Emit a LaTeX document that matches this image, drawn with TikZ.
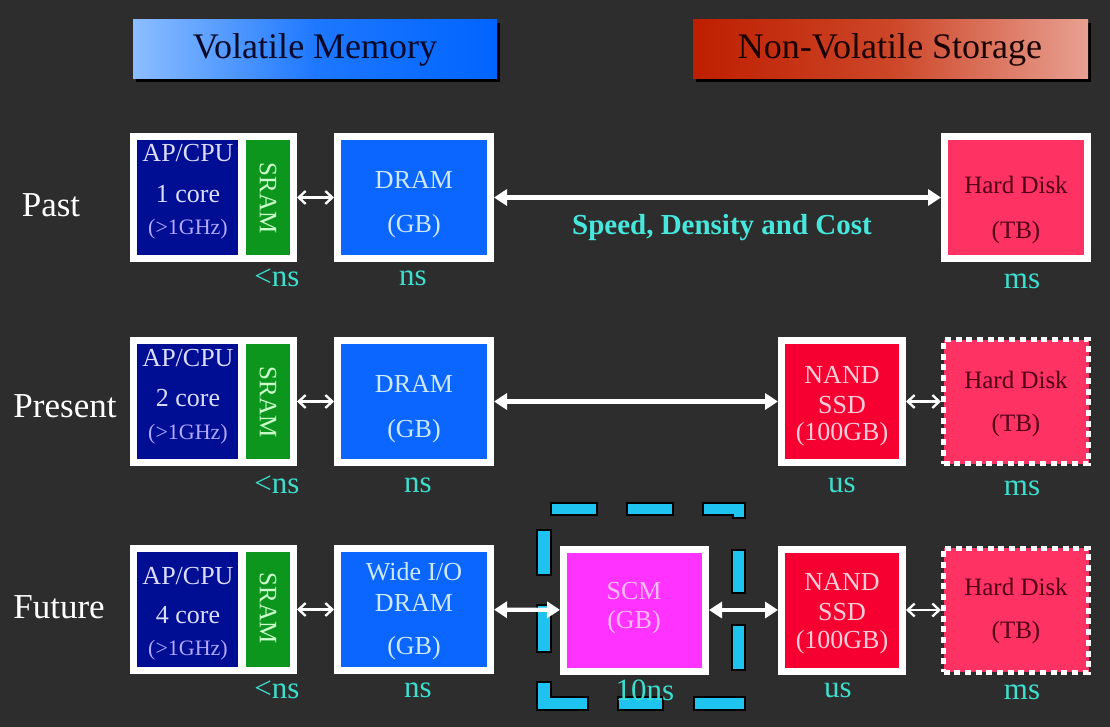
\documentclass[tikz,border=0pt]{standalone}
\usepackage{fontspec}
\setmainfont{Liberation Serif}
\usetikzlibrary{arrows.meta}
\definecolor{bg}{RGB}{45,45,45}
\definecolor{cpunavy}{RGB}{0,14,148}
\definecolor{sramgreen}{RGB}{12,150,30}
\definecolor{dramblue}{RGB}{10,102,255}
\definecolor{hdpink}{RGB}{255,50,100}
\definecolor{nandred}{RGB}{245,0,48}
\definecolor{scmmag}{RGB}{255,50,255}
\definecolor{cputext}{RGB}{220,220,255}
\definecolor{ghztext}{RGB}{180,168,255}
\definecolor{sramtext}{RGB}{205,255,205}
\definecolor{dramtext}{RGB}{205,232,255}
\definecolor{hdtext}{RGB}{80,0,22}
\definecolor{nandtext}{RGB}{255,205,215}
\definecolor{scmtext}{RGB}{255,185,255}
\definecolor{lattext}{RGB}{60,222,205}
\definecolor{speedtext}{RGB}{70,232,222}
\definecolor{scmdash}{RGB}{30,195,240}
\definecolor{volL}{RGB}{140,190,255}
\definecolor{volM}{RGB}{30,120,255}
\definecolor{volR}{RGB}{0,100,255}
\definecolor{nvL}{RGB}{190,30,0}
\definecolor{nvM}{RGB}{205,70,40}
\definecolor{nvR}{RGB}{232,160,146}
\newcommand\bxt[5]{\node[inner sep=0pt, text=#3, font=\fontsize{#4}{#4}\selectfont] (#1) at #2 {#5};}
\begin{document}
\begin{tikzpicture}[x=1pt,y=-1pt,
  framebox/.style={draw=white, line width=7pt, inner sep=0pt, minimum height=122pt},
  dotbox/.style={draw=white, line width=5pt, dash pattern=on 6pt off 4.7pt, inner sep=0pt, minimum height=124pt, minimum width=145pt, fill=hdpink},
  cpuwhite/.style={fill=white, inner sep=0pt, outer sep=0pt, minimum width=167pt, minimum height=129pt},
  cpuin/.style={fill=cpunavy, inner sep=0pt, minimum width=101pt, minimum height=115pt},
  sramin/.style={fill=sramgreen, inner sep=0pt, minimum width=44pt, minimum height=115pt},
  bigarrow/.style={draw=white, line width=4.2pt, {Triangle[length=13pt,width=16pt]}-{Triangle[length=13pt,width=16pt]}},
  smallarrow/.style={draw=white, line width=2.3pt, {Straight Barb[length=7pt,width=13pt]}-{Straight Barb[length=7pt,width=13pt]}},
  dashseg/.style={fill=scmdash, draw=black, line width=1.2pt},
  rowlabel/.style={text=white, font=\fontsize{35}{35}\selectfont, inner sep=0pt},
  lat/.style={text=lattext, font=\fontsize{31}{31}\selectfont, inner sep=0pt}
]
\fill[bg] (0,0) rectangle (1110,727);
\useasboundingbox (0,0) rectangle (1110,727);

% headers
\fill[black] (136,23) rectangle (500,82);
\shade[left color=volL, right color=volR, middle color=volM] (133,20) rectangle (497,79);
\node[text={rgb,255:red,8;green,8;blue,40}, font=\fontsize{36}{36}\selectfont, inner sep=0pt] (hvol) at (315,50) {Volatile Memory};
\fill[black] (696,23) rectangle (1091,82);
\shade[left color=nvL, right color=nvR, middle color=nvM] (693,20) rectangle (1088,79);
\node[text={rgb,255:red,25;green,0;blue,0}, font=\fontsize{36}{36}\selectfont, inner sep=0pt] (hnv) at (890,50) {Non-Volatile Storage};

% row labels
\node[rowlabel] (lpast) at (51,205) {Past};
\node[rowlabel] (lpres) at (65,406) {Present};
\node[rowlabel] (lfut) at (59,607) {Future};

% ---------- Row 1 ----------
\node[cpuwhite] (cpu1) at (213.5,197.5) {};
\node[cpuin] (cpuin1) at (187.5,197.5) {};
\node[sramin] (sram1) at (268,197.5) {};
\bxt{c1a}{(188,153)}{cputext}{26}{AP/CPU}
\bxt{c1b}{(188,194)}{cputext}{26}{1 core}
\bxt{c1c}{(188,229)}{ghztext}{22}{(>1GHz)}
\node[rotate=-90, text=sramtext, font=\fontsize{25}{25}\selectfont, inner sep=0pt] (s1) at (268,198) {SRAM};
\node[framebox, fill=dramblue, minimum width=153pt] (dram1) at (414,197.5) {};
\bxt{d1a}{(414,180)}{dramtext}{26}{DRAM}
\bxt{d1b}{(414,226)}{dramtext}{26}{(GB)}
\node[framebox, fill=hdpink, minimum width=143pt] (hd1) at (1016,197.5) {};
\bxt{h1a}{(1016,185)}{hdtext}{25}{Hard Disk}
\bxt{h1b}{(1016,232)}{hdtext}{25}{(TB)}
\draw[smallarrow] (cpu1) -- (dram1);
\draw[bigarrow] (dram1) -- (hd1);
\node[text=speedtext, font=\bfseries\fontsize{29}{29}\selectfont, inner sep=0pt] (speed) at (722,228) {Speed, Density and Cost};
\node[lat] (l1a) at (277,278) {<ns};
\node[lat] (l1b) at (413,278) {ns};
\node[lat] (l1c) at (1022,281) {ms};

% ---------- Row 2 ----------
\node[cpuwhite] (cpu2) at (213.5,401.5) {};
\node[cpuin] (cpuin2) at (187.5,401.5) {};
\node[sramin] (sram2) at (268,401.5) {};
\bxt{c2a}{(188,358)}{cputext}{26}{AP/CPU}
\bxt{c2b}{(188,398)}{cputext}{26}{2 core}
\bxt{c2c}{(188,434)}{ghztext}{22}{(>1GHz)}
\node[rotate=-90, text=sramtext, font=\fontsize{25}{25}\selectfont, inner sep=0pt] (s2) at (268,402) {SRAM};
\node[framebox, fill=dramblue, minimum width=153pt] (dram2) at (414,401.5) {};
\bxt{d2a}{(414,384)}{dramtext}{26}{DRAM}
\bxt{d2b}{(414,431)}{dramtext}{26}{(GB)}
\node[framebox, fill=nandred, minimum width=121pt] (nand2) at (842,401.5) {};
\bxt{n2a}{(842,375)}{nandtext}{26}{NAND}
\bxt{n2b}{(842,405)}{nandtext}{26}{SSD}
\bxt{n2c}{(842,434)}{nandtext}{26}{(100GB)}
\node[dotbox] (hd2) at (1016,401.5) {};
\bxt{h2a}{(1016,380)}{hdtext}{25}{Hard Disk}
\bxt{h2b}{(1016,425)}{hdtext}{25}{(TB)}
\draw[smallarrow] (cpu2) -- (dram2);
\draw[bigarrow] (dram2) -- (nand2);
\draw[smallarrow] (nand2) -- (hd2);
\node[lat] (l2a) at (277,485) {<ns};
\node[lat] (l2b) at (418,485) {ns};
\node[lat] (l2c) at (842,485) {us};
\node[lat] (l2d) at (1022,488) {ms};

% ---------- Row 3 ----------
% dashed SCM frame
\path[dashseg] (551,503) rectangle (597,515);
\path[dashseg] (627,503) rectangle (673,515);
\path[dashseg] (703,503) -- (745,503) -- (745,518) -- (733,518) -- (733,515) -- (703,515) -- cycle;
\path[dashseg] (537,530) rectangle (551,575);
\path[dashseg] (537,605) rectangle (551,652);
\path[dashseg] (537,682) -- (551,682) -- (551,697) -- (588,697) -- (588,710) -- (537,710) -- cycle;
\path[dashseg] (732,550) rectangle (745,593);
\path[dashseg] (732,625) rectangle (745,670);
\path[dashseg] (618,697) rectangle (663,710);
\path[dashseg] (694,697) rectangle (745,710);

\node[cpuwhite] (cpu3) at (213.5,609.5) {};
\node[cpuin] (cpuin3) at (187.5,609.5) {};
\node[sramin] (sram3) at (268,609.5) {};
\bxt{c3a}{(188,576)}{cputext}{26}{AP/CPU}
\bxt{c3b}{(188,615)}{cputext}{26}{4 core}
\bxt{c3c}{(188,650)}{ghztext}{22}{(>1GHz)}
\node[rotate=-90, text=sramtext, font=\fontsize{25}{25}\selectfont, inner sep=0pt] (s3) at (268,608) {SRAM};
\node[framebox, fill=dramblue, minimum width=153pt] (dram3) at (414,609.5) {};
\bxt{d3a}{(414,572)}{dramtext}{26}{Wide I/O}
\bxt{d3b}{(414,603)}{dramtext}{26}{DRAM}
\bxt{d3c}{(414,648)}{dramtext}{26}{(GB)}
\node[framebox, fill=scmmag, minimum width=142pt] (scm3) at (634.5,610) {};
\bxt{m3a}{(634,591)}{scmtext}{26}{SCM}
\bxt{m3b}{(634,622)}{scmtext}{26}{(GB)}
\node[framebox, fill=nandred, minimum width=121pt] (nand3) at (842,610) {};
\bxt{n3a}{(842,582)}{nandtext}{26}{NAND}
\bxt{n3b}{(842,612)}{nandtext}{26}{SSD}
\bxt{n3c}{(842,642)}{nandtext}{26}{(100GB)}
\node[dotbox] (hd3) at (1016,610) {};
\bxt{h3a}{(1016,587)}{hdtext}{25}{Hard Disk}
\bxt{h3b}{(1016,632)}{hdtext}{25}{(TB)}
\draw[smallarrow] (cpu3) -- (dram3);
\draw[bigarrow] (dram3) -- (scm3);
\draw[bigarrow] (scm3) -- (nand3);
\draw[smallarrow] (nand3) -- (hd3);
\node[lat] (l3a) at (277,690) {<ns};
\node[lat] (l3b) at (418,690) {ns};
\node[lat] (l3c) at (645,690) {10ns};
\node[lat] (l3d) at (838,690) {us};
\node[lat] (l3e) at (1022,692) {ms};
\end{tikzpicture}
\end{document}
